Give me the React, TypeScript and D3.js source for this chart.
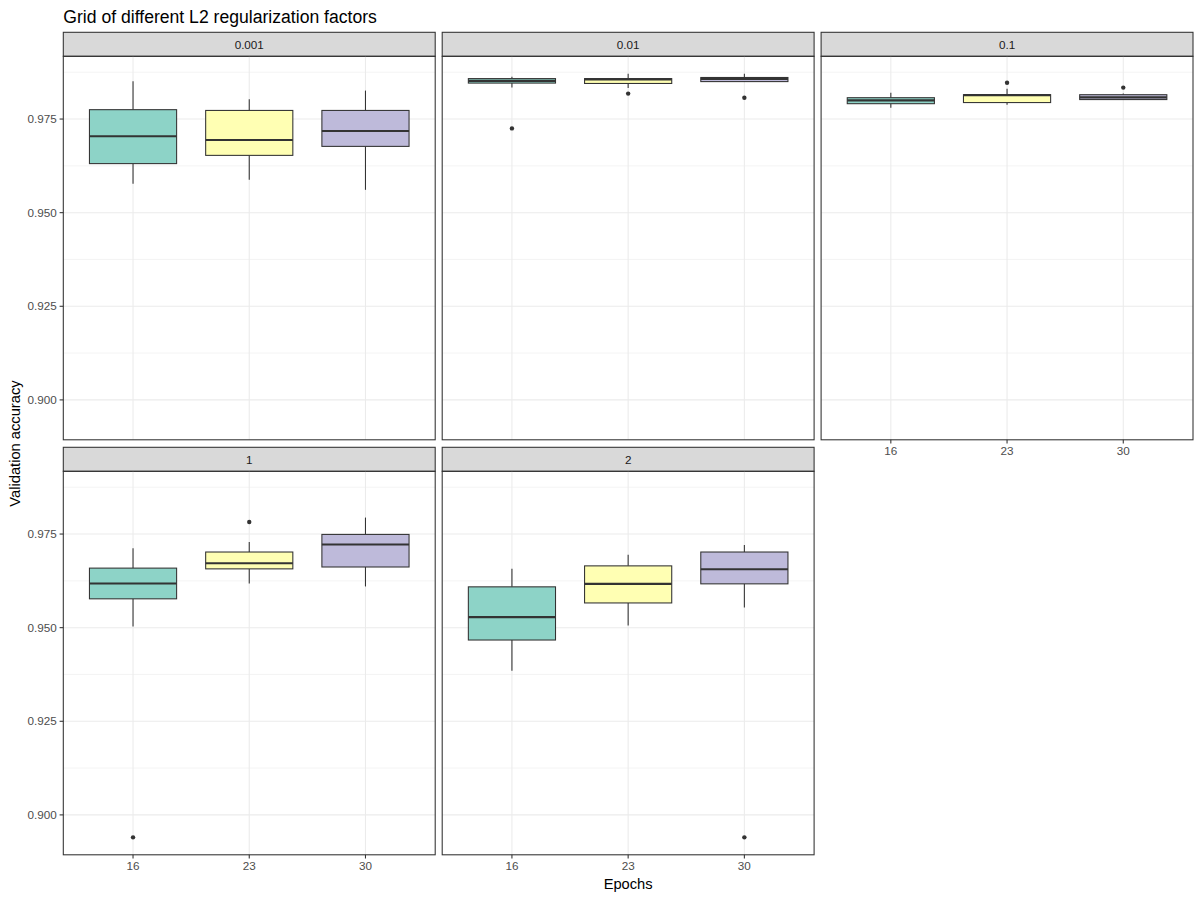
import React, { useEffect, useRef } from "react";
import * as d3 from "d3";

const factors = ["0.001", "0.01", "0.1", "1", "2"];
const epochs = ["16", "23", "30"];
const fills = ["#8DD3C7", "#FFFFB3", "#BEBADA"];

// five number summaries, one row per factor, one column per epoch
const lowerWhisker = [
  [0.9577, 0.9588, 0.9561],
  [0.9834, 0.9833, 0.9849],
  [0.978, 0.9788, 0.9801],
  [0.9503, 0.9618, 0.961],
  [0.9385, 0.9506, 0.9554],
];
const lowerQuartile = [
  [0.9631, 0.9653, 0.9677],
  [0.9846, 0.9845, 0.985],
  [0.9791, 0.9794, 0.9802],
  [0.9577, 0.9657, 0.9662],
  [0.9467, 0.9566, 0.9617],
];
const medians = [
  [0.9704, 0.9694, 0.9718],
  [0.9852, 0.9856, 0.9857],
  [0.98, 0.9814, 0.9808],
  [0.9618, 0.9672, 0.9722],
  [0.9528, 0.9617, 0.9656],
];
const upperQuartile = [
  [0.9775, 0.9773, 0.9773],
  [0.9858, 0.9858, 0.9861],
  [0.9807, 0.9815, 0.9815],
  [0.9659, 0.9702, 0.9749],
  [0.9609, 0.9665, 0.9702],
];
const upperWhisker = [
  [0.9851, 0.9803, 0.9826],
  [0.9863, 0.9871, 0.9871],
  [0.982, 0.9831, 0.9818],
  [0.9712, 0.9729, 0.9794],
  [0.9657, 0.9695, 0.9721],
];

const outlierFactor = ["0.01", "0.01", "0.01", "0.1", "0.1", "1", "1", "2"];
const outlierEpoch = ["16", "23", "30", "23", "30", "16", "23", "30"];
const outlierValue = [0.9725, 0.9818, 0.9807, 0.9847, 0.9834, 0.894, 0.9782, 0.894];

const yTicks = [0.9, 0.925, 0.95, 0.975];

const FONT = "'Liberation Sans', Arial, sans-serif";

export default function App() {
  const ref = useRef<SVGSVGElement>(null);

  useEffect(() => {
    const width = 1200;
    const height = 900;
    const left = 63.3;
    const right = 1193;
    const gap = 7;
    const panelW = (right - left - 2 * gap) / 3;
    const stripH = 24;
    const panelH = 383.5;
    const rowTop = [32.3, 447.3];

    const svg = d3.select(ref.current);
    svg.selectAll("*").remove();
    svg.attr("width", width).attr("height", height);

    svg.append("rect").attr("width", width).attr("height", height).attr("fill", "#fff");

    const all = [
      ...lowerWhisker.flat(),
      ...upperWhisker.flat(),
      ...outlierValue,
    ];
    const [lo, hi] = d3.extent(all) as [number, number];
    const pad = (hi - lo) * 0.05;
    const y = d3.scaleLinear().domain([lo - pad, hi + pad]).range([panelH, 0]);
    const x = d3.scalePoint<string>().domain(epochs).range([0, panelW]).padding(0.6);
    const boxW = x.step() * 0.75;

    const minor: number[] = [];
    for (let i = 0; i < yTicks.length + 1; i++) {
      const v = yTicks[0] - 0.0125 + i * 0.025;
      if (v >= y.domain()[0] && v <= y.domain()[1]) minor.push(v);
    }

    factors.forEach((f, fi) => {
      const col = fi % 3;
      const row = Math.floor(fi / 3);
      const px = left + col * (panelW + gap);
      const stripY = rowTop[row];
      const py = stripY + stripH;

      // strip
      svg.append("rect")
        .attr("x", px).attr("y", stripY)
        .attr("width", panelW).attr("height", stripH)
        .attr("fill", "#D9D9D9").attr("stroke", "#333333").attr("stroke-width", 1.07);
      svg.append("text")
        .attr("x", px + panelW / 2).attr("y", stripY + stripH / 2 + 4.2)
        .attr("text-anchor", "middle")
        .attr("font-family", FONT).attr("font-size", "11.7px").attr("fill", "#1A1A1A")
        .text(f);

      const g = svg.append("g").attr("transform", `translate(${px},${py})`);

      g.selectAll(".minor").data(minor).join("line")
        .attr("x1", 0).attr("x2", panelW)
        .attr("y1", d => y(d)).attr("y2", d => y(d))
        .attr("stroke", "#EBEBEB").attr("stroke-width", 0.53);
      g.selectAll(".majorY").data(yTicks).join("line")
        .attr("x1", 0).attr("x2", panelW)
        .attr("y1", d => y(d)).attr("y2", d => y(d))
        .attr("stroke", "#EBEBEB").attr("stroke-width", 1.07);
      g.selectAll(".majorX").data(epochs).join("line")
        .attr("x1", d => x(d)!).attr("x2", d => x(d)!)
        .attr("y1", 0).attr("y2", panelH)
        .attr("stroke", "#EBEBEB").attr("stroke-width", 1.07);

      epochs.forEach((e, ei) => {
        const cx = x(e)!;
        const q1 = lowerQuartile[fi][ei];
        const q3 = upperQuartile[fi][ei];
        g.append("line")
          .attr("x1", cx).attr("x2", cx)
          .attr("y1", y(upperWhisker[fi][ei])).attr("y2", y(q3))
          .attr("stroke", "#333333").attr("stroke-width", 1.07);
        g.append("line")
          .attr("x1", cx).attr("x2", cx)
          .attr("y1", y(q1)).attr("y2", y(lowerWhisker[fi][ei]))
          .attr("stroke", "#333333").attr("stroke-width", 1.07);
        g.append("rect")
          .attr("x", cx - boxW / 2).attr("width", boxW)
          .attr("y", y(q3)).attr("height", y(q1) - y(q3))
          .attr("fill", fills[ei]).attr("stroke", "#333333").attr("stroke-width", 1.07);
        g.append("line")
          .attr("x1", cx - boxW / 2).attr("x2", cx + boxW / 2)
          .attr("y1", y(medians[fi][ei])).attr("y2", y(medians[fi][ei]))
          .attr("stroke", "#333333").attr("stroke-width", 2.13);
      });

      outlierValue.forEach((v, i) => {
        if (outlierFactor[i] !== f) return;
        g.append("circle")
          .attr("cx", x(outlierEpoch[i])!).attr("cy", y(v)).attr("r", 2.2)
          .attr("fill", "#333333");
      });

      g.append("rect")
        .attr("width", panelW).attr("height", panelH)
        .attr("fill", "none").attr("stroke", "#333333").attr("stroke-width", 1.07);

      // y axis on first column
      if (col === 0) {
        const ya = g.append("g");
        yTicks.forEach(t => {
          ya.append("line")
            .attr("x1", -3.7).attr("x2", 0).attr("y1", y(t)).attr("y2", y(t))
            .attr("stroke", "#333333").attr("stroke-width", 1.07);
          ya.append("text")
            .attr("x", -6.5).attr("y", y(t) + 4)
            .attr("text-anchor", "end")
            .attr("font-family", FONT).attr("font-size", "11.7px").attr("fill", "#4D4D4D")
            .text(d3.format(".3f")(t));
        });
      }

      // x axis where there is no panel below
      if (row === 1 || fi + 3 >= factors.length) {
        epochs.forEach(e => {
          g.append("line")
            .attr("x1", x(e)!).attr("x2", x(e)!).attr("y1", panelH).attr("y2", panelH + 3.7)
            .attr("stroke", "#333333").attr("stroke-width", 1.07);
          g.append("text")
            .attr("x", x(e)!).attr("y", panelH + 15.5)
            .attr("text-anchor", "middle")
            .attr("font-family", FONT).attr("font-size", "11.7px").attr("fill", "#4D4D4D")
            .text(e);
        });
      }
    });

    svg.append("text")
      .attr("x", left).attr("y", 22.5)
      .attr("font-family", FONT).attr("font-size", "17.6px").attr("fill", "#000")
      .text("Grid of different L2 regularization factors");

    svg.append("text")
      .attr("x", (left + right) / 2).attr("y", 889)
      .attr("text-anchor", "middle")
      .attr("font-family", FONT).attr("font-size", "14.7px").attr("fill", "#000")
      .text("Epochs");

    svg.append("text")
      .attr("transform", `translate(19.5,${(rowTop[0] + rowTop[1] + stripH + panelH) / 2}) rotate(-90)`)
      .attr("text-anchor", "middle")
      .attr("font-family", FONT).attr("font-size", "14.7px").attr("fill", "#000")
      .text("Validation accuracy");
  }, []);

  return (
    <svg
      ref={ref}
      width={1200}
      height={900}
      style={{ position: "absolute", left: 0, top: 0, display: "block" }}
    />
  );
}
